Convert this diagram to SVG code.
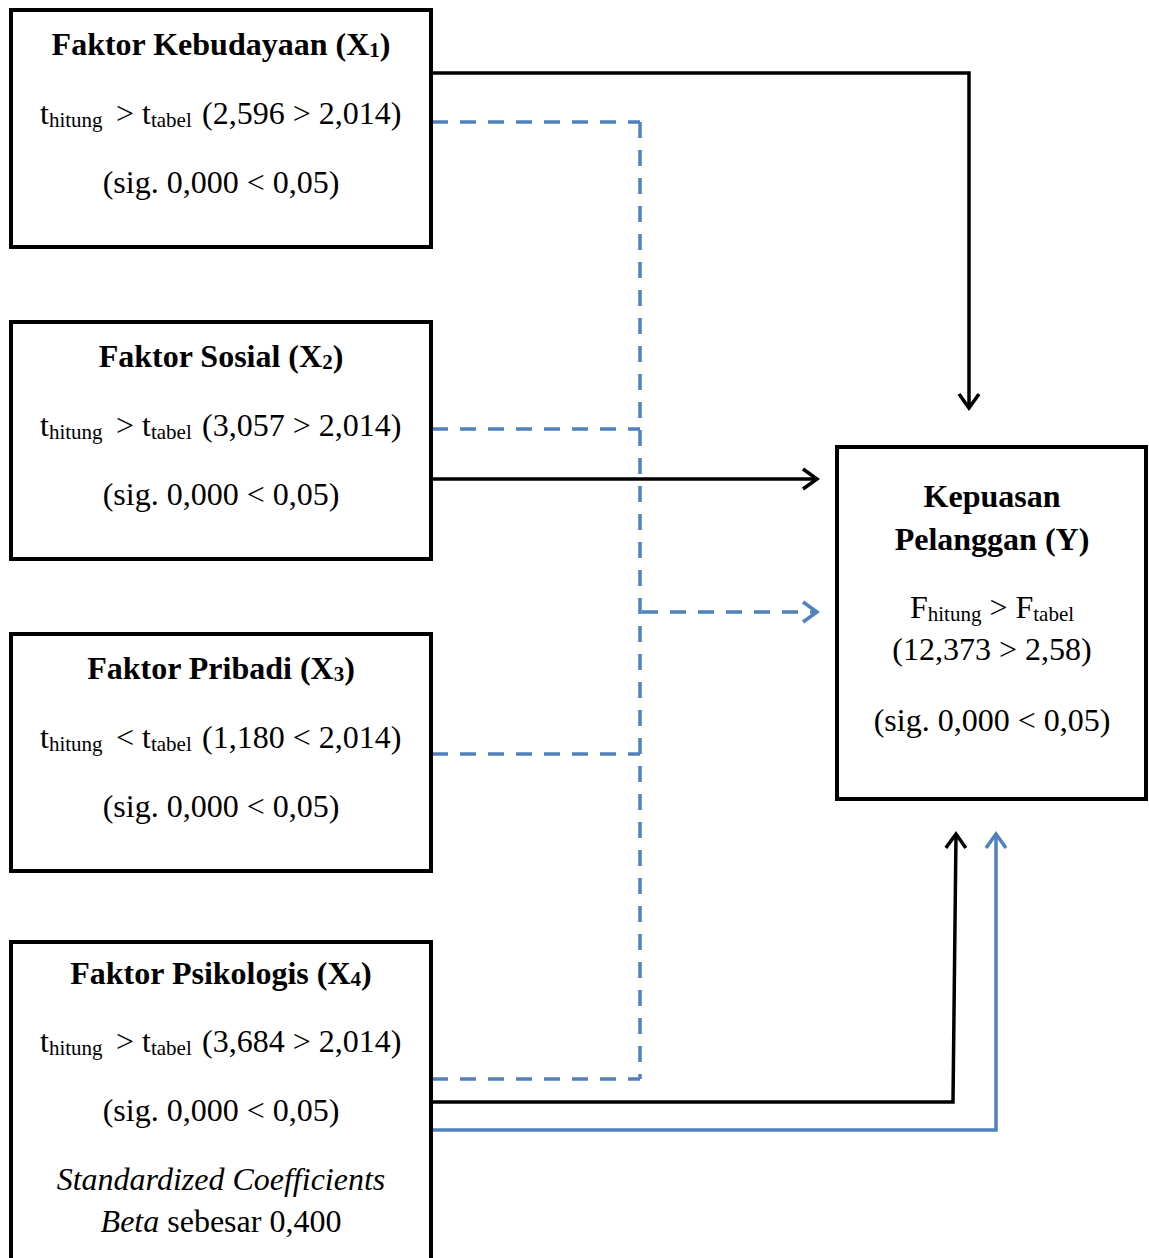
<svg xmlns="http://www.w3.org/2000/svg" width="1149" height="1258" viewBox="0 0 1149 1258">
<style>
.box{fill:#fff;stroke:#000;stroke-width:4}
.t{font-family:"Liberation Serif","Times New Roman",serif;font-size:32px;fill:#000}
.b{font-weight:bold}
.sub{font-size:21px}
.c{text-anchor:middle}
.blk{fill:none;stroke:#000;stroke-width:3.5}
.blu{fill:none;stroke:#4F81BD;stroke-width:3.5}
.dash{fill:none;stroke:#4F81BD;stroke-width:3.5;stroke-dasharray:16 12}
</style>
<defs>
<marker id="ab" markerUnits="userSpaceOnUse" markerWidth="30" markerHeight="30" refX="20" refY="12" orient="auto" viewBox="0 0 30 24" overflow="visible">
<path d="M6,2 L20,12 L6,22" fill="none" stroke="#000" stroke-width="3.5"/>
</marker>
<marker id="au" markerUnits="userSpaceOnUse" markerWidth="30" markerHeight="30" refX="20" refY="12" orient="auto" viewBox="0 0 30 24" overflow="visible">
<path d="M6,2 L20,12 L6,22" fill="none" stroke="#4F81BD" stroke-width="3.5"/>
</marker>
</defs>

<g id="connectors">
<path class="blk" d="M432,73 H969 V408" marker-end="url(#ab)"/>
<path class="blk" d="M432,479 H817" marker-end="url(#ab)"/>
<path class="dash" d="M432,122 H640"/>
<path class="dash" d="M432,429 H640"/>
<path class="dash" d="M432,754 H640"/>
<path class="dash" d="M432,1079 H640"/>
<path class="dash" d="M640,122 V1079"/>
<path class="dash" d="M642,612 H817" marker-end="url(#au)"/>
<path class="blk" d="M432,1102 H953 L956,834" marker-end="url(#ab)"/>
<path class="blu" d="M432,1130 H996 V834" marker-end="url(#au)"/>
</g>

<g id="x1">
<rect class="box" x="11" y="10" width="420" height="237"/>
<text class="t b c" x="221" y="55">Faktor Kebudayaan (X<tspan class="sub" dy="2">1</tspan><tspan dy="-2">)</tspan></text>
<text class="t" y="124"><tspan x="40">t</tspan><tspan class="sub" dy="3">hitung</tspan><tspan x="116" dy="-3">&gt; t</tspan><tspan class="sub" dy="3">tabel</tspan><tspan x="202" dy="-3">(2,596 &gt; 2,014)</tspan></text>
<text class="t c" x="221" y="193">(sig. 0,000 &lt; 0,05)</text>
</g>

<g id="x2">
<rect class="box" x="11" y="322" width="420" height="237"/>
<text class="t b c" x="221" y="367">Faktor Sosial (X<tspan class="sub" dy="2">2</tspan><tspan dy="-2">)</tspan></text>
<text class="t" y="436"><tspan x="40">t</tspan><tspan class="sub" dy="3">hitung</tspan><tspan x="116" dy="-3">&gt; t</tspan><tspan class="sub" dy="3">tabel</tspan><tspan x="202" dy="-3">(3,057 &gt; 2,014)</tspan></text>
<text class="t c" x="221" y="505">(sig. 0,000 &lt; 0,05)</text>
</g>

<g id="x3">
<rect class="box" x="11" y="634" width="420" height="237"/>
<text class="t b c" x="221" y="679">Faktor Pribadi (X<tspan class="sub" dy="2">3</tspan><tspan dy="-2">)</tspan></text>
<text class="t" y="748"><tspan x="40">t</tspan><tspan class="sub" dy="3">hitung</tspan><tspan x="116" dy="-3">&lt; t</tspan><tspan class="sub" dy="3">tabel</tspan><tspan x="202" dy="-3">(1,180 &lt; 2,014)</tspan></text>
<text class="t c" x="221" y="817">(sig. 0,000 &lt; 0,05)</text>
</g>

<g id="x4">
<rect class="box" x="11" y="942" width="420" height="340"/>
<text class="t b c" x="221" y="984">Faktor Psikologis (X<tspan class="sub" dy="2">4</tspan><tspan dy="-2">)</tspan></text>
<text class="t" y="1052"><tspan x="40">t</tspan><tspan class="sub" dy="3">hitung</tspan><tspan x="116" dy="-3">&gt; t</tspan><tspan class="sub" dy="3">tabel</tspan><tspan x="202" dy="-3">(3,684 &gt; 2,014)</tspan></text>
<text class="t c" x="221" y="1121">(sig. 0,000 &lt; 0,05)</text>
<text class="t c" x="221" y="1190" font-style="italic">Standardized Coefficients</text>
<text class="t c" x="221" y="1232"><tspan font-style="italic">Beta</tspan> sebesar 0,400</text>
</g>

<g id="y">
<rect class="box" x="837" y="447" width="309" height="352"/>
<text class="t b c" x="992" y="507">Kepuasan</text>
<text class="t b c" x="992" y="550">Pelanggan (Y)</text>
<text class="t c" x="992" y="618">F<tspan class="sub" dy="3">hitung</tspan><tspan dy="-3"> &gt; F</tspan><tspan class="sub" dy="3">tabel</tspan></text>
<text class="t c" x="992" y="660">(12,373 &gt; 2,58)</text>
<text class="t c" x="992" y="731">(sig. 0,000 &lt; 0,05)</text>
</g>
</svg>
